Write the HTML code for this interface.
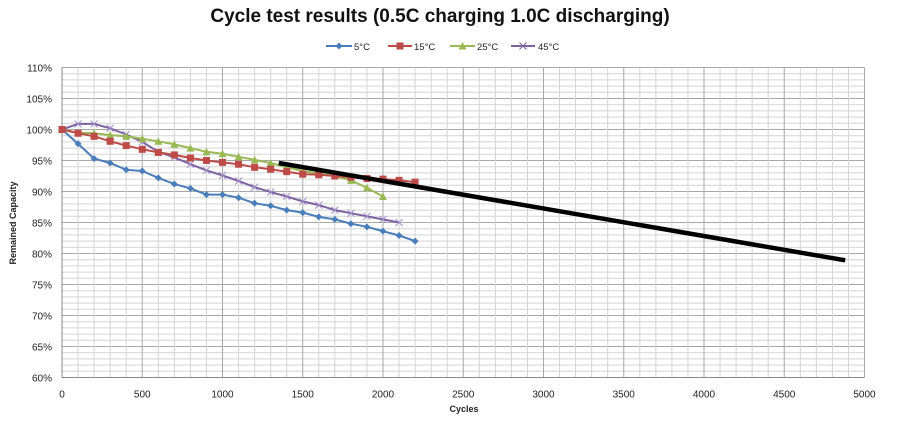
<!DOCTYPE html>
<html><head><meta charset="utf-8"><style>
body{margin:0;background:#fff;}
svg{display:block;font-family:"Liberation Sans",sans-serif;}
</style></head><body>
<svg id="s" width="902" height="426" xmlns="http://www.w3.org/2000/svg">
<rect width="902" height="426" fill="#fff"/>
<text x="440" y="22" text-anchor="middle" font-size="19" font-weight="bold" fill="#111">Cycle test results (0.5C charging 1.0C discharging)</text>
<g id="grid"></g>
<g id="series"></g>
<g font-size="9.5" fill="#222">
<line x1="326" y1="46" x2="352" y2="46" stroke="#4a7ebb" stroke-width="2"/><path d="M339 42.5L342.5 46 339 49.5 335.5 46Z" fill="#4a7ebb"/><text x="354" y="50">5°C</text>
<line x1="388" y1="46" x2="412" y2="46" stroke="#be4b48" stroke-width="2"/><rect x="396.5" y="42.5" width="7" height="7" fill="#be4b48"/><text x="414" y="50">15°C</text>
<line x1="450" y1="46" x2="475" y2="46" stroke="#98b954" stroke-width="2"/><path d="M462.5 42L466.5 49.5 458.5 49.5Z" fill="#98b954"/><text x="477" y="50">25°C</text>
<line x1="511" y1="46" x2="535" y2="46" stroke="#7d60a0" stroke-width="2"/><path d="M519.5 42.5l7 7M526.5 42.5l-7 7" stroke="#7d60a0" stroke-width="1"/><text x="538" y="50">45°C</text>
</g>
<text transform="translate(16,223) rotate(-90)" text-anchor="middle" font-size="9" font-weight="bold" fill="#222">Remained Capacity</text>
<text x="464" y="412" text-anchor="middle" font-size="9" font-weight="bold" fill="#222">Cycles</text>
</svg>
<script>
var NS="http://www.w3.org/2000/svg";
function X(c){return 62+c*0.1605;}
function Y(p){return 67.5+(110-p)*6.2;}
function el(t,a,p){var e=document.createElementNS(NS,t);for(var k in a)e.setAttribute(k,a[k]);if(p)p.appendChild(e);return e;}
var g=document.getElementById('grid');
for(var p=60;p<=110;p++){el('line',{x1:62,x2:X(5000),y1:Y(p),y2:Y(p),stroke:p%5?'#d4d4d4':'#a8a8a8','stroke-width':1},g);}
for(var c=0;c<=5000;c+=100){el('line',{x1:X(c),x2:X(c),y1:Y(110),y2:Y(60),stroke:c%500?'#d4d4d4':'#a8a8a8','stroke-width':1},g);}
el('line',{x1:62,x2:62,y1:Y(110),y2:Y(60),stroke:'#888'},g);
el('line',{x1:62,x2:X(5000),y1:Y(60),y2:Y(60),stroke:'#888'},g);
for(var p=60;p<=110;p+=5){var t=el('text',{x:52,y:Y(p)+4,'text-anchor':'end','font-size':'10',fill:'#222'},g);t.textContent=p+'%';}
for(var c=0;c<=5000;c+=500){var t=el('text',{x:X(c),y:Y(60)+20,'text-anchor':'middle','font-size':'10',fill:'#222'},g);t.textContent=c;}
var s=document.getElementById('series');
var D=[
['#4a7ebb','d',[100,97.7,95.3,94.6,93.5,93.3,92.2,91.2,90.5,89.5,89.5,89,88.1,87.7,87.0,86.6,85.9,85.5,84.8,84.3,83.6,82.9,82.0]],
['#7d60a0','x',[100,100.9,100.9,100.2,99.2,98.0,96.4,95.5,94.4,93.4,92.6,91.7,90.7,89.9,89.2,88.4,87.8,87.0,86.5,86.0,85.5,85.0]],
['#98b954','t',[100,99.5,99.4,99.1,98.9,98.5,98.1,97.6,97.0,96.4,96.1,95.6,95.1,94.6,93.9,93.3,92.9,92.5,91.8,90.6,89.2]],
['#be4b48','s',[100,99.4,98.9,98.1,97.4,96.8,96.3,95.9,95.4,95.0,94.7,94.4,93.9,93.6,93.2,92.8,92.7,92.5,92.3,92.1,92.0,91.8,91.5]]
];
D.forEach(function(d){
 var pts=d[2].map(function(v,i){return X(i*100).toFixed(1)+','+Y(v).toFixed(1);}).join(' ');
 el('polyline',{points:pts,fill:'none',stroke:d[0],'stroke-width':2},s);
 d[2].forEach(function(v,i){var x=X(i*100),y=Y(v);
  if(d[1]=='d')el('path',{d:'M'+x+' '+(y-3.5)+'l3.5 3.5-3.5 3.5-3.5-3.5z',fill:d[0]},s);
  if(d[1]=='s')el('rect',{x:x-3.5,y:y-3.5,width:7,height:7,fill:d[0]},s);
  if(d[1]=='t')el('path',{d:'M'+x+' '+(y-4)+'l4 7.5h-8z',fill:d[0]},s);
  if(d[1]=='x')el('path',{d:'M'+(x-3.5)+' '+(y-3.5)+'l7 7m0-7l-7 7',stroke:'#a58ccc','stroke-width':1},s);
 });
});
el('line',{x1:X(1350),y1:Y(94.6),x2:X(4880),y2:Y(78.9),stroke:'#000','stroke-width':4.5},s);
</script>
</body></html>
